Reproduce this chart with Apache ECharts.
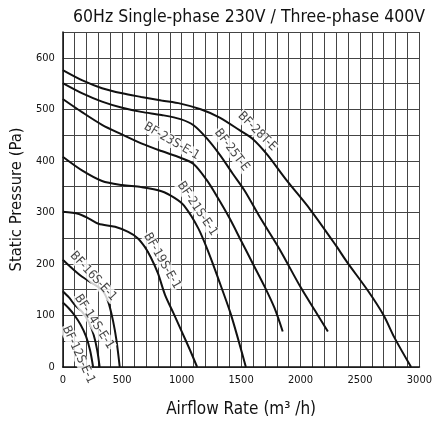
<!DOCTYPE html>
<html><head><meta charset="utf-8">
<script src="https://cdn.jsdelivr.net/npm/echarts@6/dist/echarts.min.js"></script>
<style>html,body{margin:0;padding:0;background:#fff}#c{width:435px;height:423px}</style>
</head><body><div id="c"></div>
<script>
// Airflow (m3/h), static pressure (Pa) pairs per model
const bf28T = [[0,576],[165,556],[330,541],[500,531],[660,524],[830,517],[990,511],[1160,500],[1320,484],[1490,459],[1600,442],[1720,412],[1880,363],[2080,306],[2300,235],[2390,204],[2570,147],[2700,100],[2790,57],[2930,0]];
const bf25T = [[0,551],[165,531],[330,515],[500,503],[660,495],[830,489],[990,481],[1100,469],[1210,444],[1320,412],[1430,375],[1530,342],[1660,290],[1820,230],[2000,155],[2120,110],[2230,69]];
const bf23S = [[0,520],[165,494],[330,470],[500,451],[660,434],[830,419],[990,406],[1100,394],[1210,363],[1300,330],[1400,290],[1500,245],[1600,200],[1700,155],[1780,115],[1850,69]];
const bf21S = [[0,408],[165,381],[330,361],[500,353],[660,349],[830,341],[940,328],[1020,313],[1140,269],[1230,220],[1310,170],[1410,105],[1480,50],[1540,0]];
const bf19S = [[0,301],[135,297],[220,288],[300,278],[440,272],[550,262],[630,250],[690,233],[740,213],[800,182],[860,140],[930,105],[1000,69],[1070,33],[1130,0]];
const bf16S = [[0,208],[80,191],[163,175],[245,163],[328,150],[383,126],[424,88],[452,51],[479,0]];
const bf14S = [[0,147],[52,135],[107,119],[163,107],[217,88],[259,63],[290,32],[310,0]];
const bf12S = [[0,125],[50,114],[100,100],[150,82],[195,60],[230,32],[255,0]];
const seriesNames = ['BF-28T-E','BF-25T-E','BF-23S-E-1','BF-21S-E-1','BF-19S-E-1','BF-16S-E-1','BF-14S-E-1','BF-12S-E-1'];
const seriesData = [bf28T,bf25T,bf23S,bf21S,bf19S,bf16S,bf14S,bf12S];
const xTickLabels = [0,500,1000,1500,2000,2500,3000];
const yTickLabels = [0,100,200,300,400,500,600];
const titleText = '60Hz Single-phase 230V / Three-phase 400V';
const xName = 'Airflow Rate (m³ /h)';
const yName = 'Static Pressure (Pa)';

// label anchor points (data space) and rotation
const labelAnchors = [
  {x:1636,y:457,rot:-45},{x:1421,y:421,rot:-53},{x:917,y:438,rot:-30},{x:1132,y:307,rot:-56},
  {x:835,y:206,rot:-60},{x:256,y:176,rot:-47},{x:264,y:88,rot:-57},{x:132,y:24,rot:-65}
];

const FONT = '"Liberation Sans Narrow","DejaVu Sans Condensed","Liberation Sans",Arial,sans-serif';
const chart = echarts.init(document.getElementById('c'), null, {renderer:'canvas'});
const series = seriesData.map((d,i)=>({
  type:'line', name:seriesNames[i], data:d, smooth:0.3, symbol:'none', z:3,
  lineStyle:{color:'#111', width:2}
}));
series.push({
  type:'scatter', z:10, symbolSize:0, silent:true,
  data: labelAnchors.map((a,i)=>({value:[a.x,a.y], name:seriesNames[i],
    label:{show:true, position:'inside', rotate:a.rot, formatter:seriesNames[i],
      backgroundColor:'#fff', padding:[0,1], color:'#111', fontSize:12.5, fontFamily:FONT}}))
});
chart.setOption({
  animation:false,
  title:{text:titleText, left:244, top:3, textAlign:'center',
    textStyle:{fontFamily:FONT, fontSize:17.5, fontWeight:'normal', color:'#111'}},
  grid:{left:62, right:11, top:32, bottom:46, containLabel:false},
  xAxis:{type:'value', min:0, max:3000, interval:100,
    name:xName, nameLocation:'middle', nameGap:34,
    nameTextStyle:{fontFamily:FONT, fontSize:17, color:'#111'},
    axisLine:{show:true, lineStyle:{color:'#111', width:1.5}}, axisTick:{show:false},
    axisLabel:{fontFamily:FONT, fontSize:11, color:'#111', margin:8,
      formatter:v=> xTickLabels.indexOf(v)>=0 ? String(v) : ''},
    splitLine:{show:true, lineStyle:{color:'#444', width:1}}},
  yAxis:{type:'value', min:0, max:650, interval:50,
    name:yName, nameLocation:'middle', nameGap:28, nameRotate:90,
    nameTextStyle:{fontFamily:FONT, fontSize:16.5, color:'#111'},
    axisLine:{show:true, lineStyle:{color:'#111', width:1.5}}, axisTick:{show:false},
    axisLabel:{fontFamily:FONT, fontSize:11, color:'#111', margin:8,
      formatter:v=> yTickLabels.indexOf(v)>=0 ? String(v) : ''},
    splitLine:{show:true, lineStyle:{color:'#444', width:1}}},
  series:series
});
</script></body></html>
